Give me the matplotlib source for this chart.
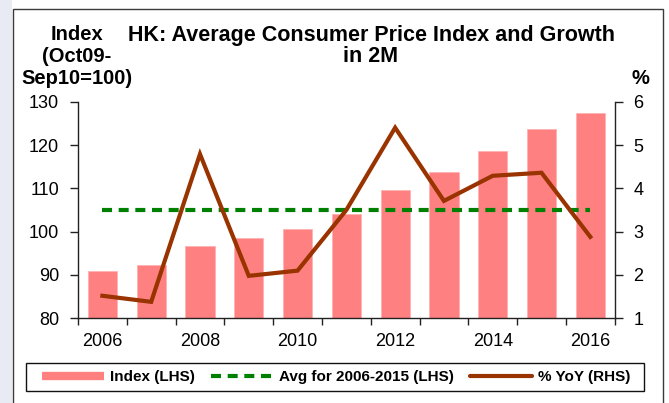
import matplotlib
matplotlib.use("Agg")
import matplotlib.pyplot as plt
from matplotlib.lines import Line2D
from matplotlib.patches import Rectangle

plt.rcParams['font.family'] = ['Liberation Sans', 'DejaVu Sans']

# ---- data ----
years = [2006, 2007, 2008, 2009, 2010, 2011, 2012, 2013, 2014, 2015, 2016]
year_labels = ["2006", "", "2008", "", "2010", "", "2012", "", "2014", "", "2016"]
index_values = [91.0, 92.3, 96.7, 98.6, 100.7, 104.1, 109.7, 113.8, 118.6, 123.8, 127.3]
yoy_values = [1.52, 1.38, 4.79, 1.98, 2.10, 3.50, 5.40, 3.71, 4.29, 4.36, 2.88]
avg_2006_2015 = 105.0

title_lines = ["HK: Average Consumer Price Index and Growth", "in 2M"]
left_label_lines = ["Index", "(Oct09-", "Sep10=100)"]
legend_labels = ["Index (LHS)", "Avg for 2006-2015 (LHS)", "% YoY (RHS)"]

BAR = '#FF8080'
LINE = '#993300'
AVG = '#008000'

W, H = 669, 403
fig = plt.figure(figsize=(W / 100, H / 100), dpi=100)
fig.patch.set_facecolor('white')

def fx(px):
    return px / W

def fy(py):
    return 1 - py / H

# background strip and frame
fig.patches.append(Rectangle((0, 0), fx(12), 1, transform=fig.transFigure,
                             facecolor='#e8ebf3', edgecolor='none', zorder=0))
fig.patches.append(Rectangle((fx(13), -0.05), fx(663) - fx(13), fy(9) + 0.05,
                             transform=fig.transFigure, facecolor='white',
                             edgecolor='#3a3a3a', linewidth=1.0, zorder=0.5))
# legend frame
fig.patches.append(Rectangle((fx(26), fy(391)), fx(644) - fx(26), fy(363) - fy(391),
                             transform=fig.transFigure, facecolor='white',
                             edgecolor='#111111', linewidth=1.0, zorder=0.6))

ax = fig.add_axes([fx(78), fy(318.3), fx(614.7) - fx(78), fy(101.7) - fy(318.3)])
ax.set_zorder(1)
ax.patch.set_visible(False)
x = list(range(len(years)))
ax.bar(x, index_values, width=0.6, color=BAR, edgecolor='#ffb3b3', linewidth=0.6, zorder=2)
ax.plot([x[0], x[-1]], [avg_2006_2015, avg_2006_2015], color=AVG, lw=3,
        linestyle=(0, (2.4, 1.6)), zorder=3)
ax.set_xlim(-0.5, len(years) - 0.5)
ax.set_ylim(80, 130)
ax.set_yticks([80, 90, 100, 110, 120, 130])
ax.set_xticks(x)
ax.set_xticklabels(year_labels)
ax.set_xticks([i - 0.5 for i in range(len(years) + 1)], minor=True)
ax.tick_params(axis='x', which='major', length=0, pad=10.5, labelsize=13)
ax.tick_params(axis='x', which='minor', length=5, width=1, direction='out', color='#222222')
ax.tick_params(axis='y', length=6, width=1, direction='out', pad=7.5, labelsize=13, color='#222222')
for s in ['top', 'right']:
    ax.spines[s].set_visible(False)
for s in ['left', 'bottom']:
    ax.spines[s].set_color('#222222')
    ax.spines[s].set_linewidth(1)

ax2 = ax.twinx()
ax2.plot(x, yoy_values, color=LINE, lw=3, solid_joinstyle='miter', zorder=4)
ax2.set_ylim(1, 6)
ax2.set_yticks([1, 2, 3, 4, 5, 6])
ax2.tick_params(axis='y', length=6, width=1, direction='out', pad=7.5, labelsize=13, color='#222222')
for s in ['top', 'left', 'bottom']:
    ax2.spines[s].set_visible(False)
ax2.spines['right'].set_color('#222222')
ax2.spines['right'].set_linewidth(1)
ax2.set_xlim(-0.5, len(years) - 0.5)

# titles
fig.text(fx(371), fy(35), title_lines[0], ha='center', va='center', fontsize=15.5, fontweight='bold')
fig.text(fx(371), fy(57), title_lines[1], ha='center', va='center', fontsize=15.5, fontweight='bold')
for txt, yy in zip(left_label_lines, [35, 57, 79]):
    fig.text(fx(77), fy(yy), txt, ha='center', va='center', fontsize=14.5, fontweight='bold')
fig.text(fx(640), fy(79), '%', ha='center', va='center', fontsize=14.5, fontweight='bold')

handles = [Line2D([], [], color=BAR, lw=6, solid_capstyle='butt'),
           Line2D([], [], color=AVG, lw=3, linestyle=(0, (2.4, 1.6))),
           Line2D([], [], color=LINE, lw=3, solid_capstyle='round')]
leg = fig.legend(handles, legend_labels, loc='center left', bbox_to_anchor=(fx(42), fy(377)),
                 ncol=3, frameon=False,
                 prop={'weight': 'bold', 'size': 11}, handlelength=4.05, handletextpad=0.4,
                 columnspacing=1.05, borderpad=0.0, borderaxespad=0.0)
leg.set_zorder(2)

fig.savefig('out.png', dpi=100)
